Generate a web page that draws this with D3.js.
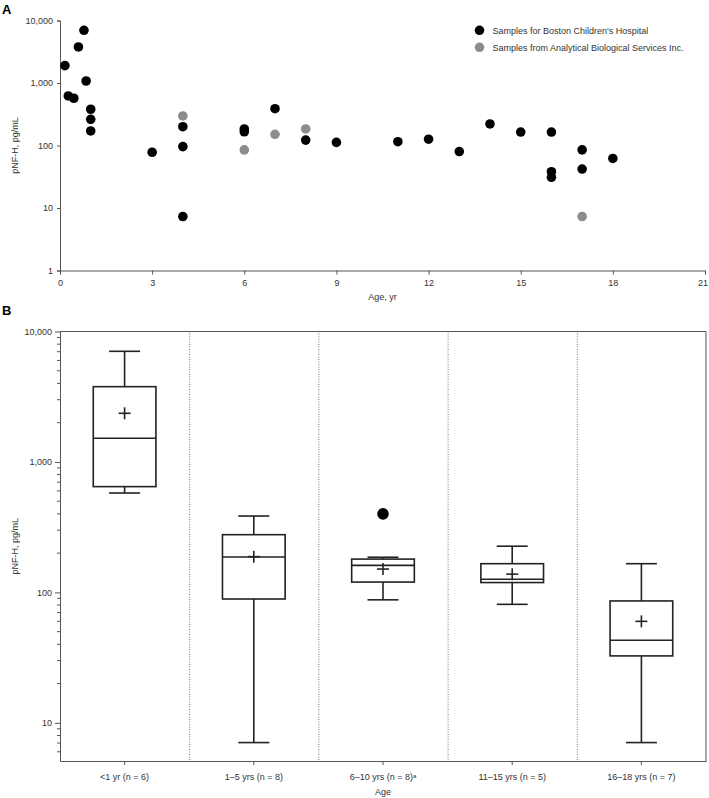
<!DOCTYPE html>
<html>
<head>
<meta charset="utf-8">
<script src="https://cdn.jsdelivr.net/npm/d3@7"></script>
<style>
  html, body { margin: 0; padding: 0; background: #fff; }
  svg { display: block; font-family: "Liberation Sans", Arial, Helvetica, sans-serif; }
</style>
</head>
<body>
<svg id="chart" width="709" height="798"></svg>
<script>
// ---------- Panel A data ----------
const bchAge = [0.16, 0.27, 0.45, 0.6, 0.78, 0.85, 1, 1, 1, 3, 4, 4, 4, 6, 6, 7, 8, 9, 11, 12, 13, 14, 15, 16, 16, 16, 17, 17, 18];
const bchVal = [1900, 620, 570, 3770, 6970, 1076, 380, 262, 171, 78, 200, 96, 7.3, 184, 166, 388, 122, 112, 115, 126, 80, 221, 164, 164, 38, 31, 85, 42, 62];
const absAge = [4, 6, 7, 8, 17];
const absVal = [297, 85, 151, 184, 7.3];
const seriesNames = ["Samples for Boston Children's Hospital", "Samples from Analytical Biological Services Inc."];
const seriesColors = ["#000000", "#8c8c8c"];
const xTicksA = [0, 3, 6, 9, 12, 15, 18, 21];
const yTicksA = [1, 10, 100, 1000, 10000];

// ---------- Panel B data ----------
const groups = ["<1 yr (n = 6)", "1\u20135 yrs (n = 8)", "6\u201310 yrs (n = 8)", "11\u201315 yrs (n = 5)", "16\u201318 yrs (n = 7)"];
const groupSup = ["", "", "a", "", ""];
const boxMin  = [578, 7.06, 87.7, 81, 7.06];
const boxQ1   = [647, 89, 120, 119, 32.6];
const boxMed  = [1520, 187, 161, 126, 43];
const boxQ3   = [3776, 277, 180, 166, 86];
const boxMax  = [7050, 385, 186, 226, 166];
const boxMean = [2360, 188, 151, 138, 60];
const outlierGroup = [2];
const outlierVal = [400];
const yTicksB = [10, 100, 1000, 10000];

const svg = d3.select("#chart");
const fmt = d3.format(",");
const axisColor = "#555";
const textColor = "#333";

function styleAxis(g) {
  g.selectAll("path.domain").attr("stroke", axisColor).attr("stroke-width", 1);
  g.selectAll(".tick line").attr("stroke", axisColor);
  g.selectAll(".tick text").attr("fill", textColor).attr("font-size", 9).attr("font-family", "Liberation Sans, Arial, sans-serif");
}

// ================= Panel A =================
const xA = d3.scaleLinear().domain([0, 21]).range([60, 705]);
const yA = d3.scaleLog().domain([1, 10000]).range([270.5, 20.5]);

const gA = svg.append("g");
const xAxisA = gA.append("g").attr("transform", "translate(0,270.5)")
  .call(d3.axisBottom(xA).tickValues(xTicksA).tickSize(4).tickPadding(5.5).tickFormat(d3.format("d")))
  .call(styleAxis);
xAxisA.selectAll(".tick text").filter(d => d === 21).attr("dx", "-2.5");
gA.append("g").attr("transform", "translate(60,0)")
  .call(d3.axisLeft(yA).tickValues(yTicksA).tickSize(3).tickPadding(4).tickFormat(fmt))
  .call(styleAxis);

gA.append("text").attr("x", 382.5).attr("y", 300).attr("text-anchor", "middle")
  .attr("font-size", 9).attr("fill", textColor).text("Age, yr");
gA.append("text").attr("transform", "translate(18,145.5) rotate(-90)").attr("text-anchor", "middle")
  .attr("font-size", 9).attr("fill", textColor).text("pNF-H, pg/mL");

gA.append("g").selectAll("circle").data(bchAge.map((a, i) => [a, bchVal[i]])).join("circle")
  .attr("cx", d => xA(d[0])).attr("cy", d => yA(d[1])).attr("r", 4.8).attr("fill", seriesColors[0]);
gA.append("g").selectAll("circle").data(absAge.map((a, i) => [a, absVal[i]])).join("circle")
  .attr("cx", d => xA(d[0])).attr("cy", d => yA(d[1])).attr("r", 4.8).attr("fill", seriesColors[1]);

// legend
const leg = gA.append("g");
seriesNames.forEach((name, i) => {
  const y = 30.3 + i * 17;
  leg.append("circle").attr("cx", 479.5).attr("cy", y).attr("r", 4.8).attr("fill", seriesColors[i]);
  leg.append("text").attr("x", 492.5).attr("y", y + 3.2).attr("font-size", 9).attr("fill", textColor).text(name);
});

svg.append("text").attr("x", 2).attr("y", 14).attr("font-size", 13).attr("font-weight", "bold").text("A");
svg.append("text").attr("x", 2).attr("y", 315).attr("font-size", 13).attr("font-weight", "bold").text("B");

// ================= Panel B =================
const topB = 331.5, bottomB = 761, leftB = 60, rightB = 706;
const xB = d3.scaleBand().domain(groups).range([leftB, rightB]).padding(0);
const yB = d3.scaleLog().domain([5.1, 10000]).range([bottomB, topB]);
const bw = xB.bandwidth();

const gB = svg.append("g");
// frame top & right
gB.append("line").attr("x1", leftB).attr("x2", rightB).attr("y1", topB).attr("y2", topB).attr("stroke", axisColor);
gB.append("line").attr("x1", rightB).attr("x2", rightB).attr("y1", topB).attr("y2", bottomB).attr("stroke", axisColor);

// dotted separators
gB.append("g").selectAll("line").data(groups.slice(1)).join("line")
  .attr("x1", d => xB(d) + 0.5).attr("x2", d => xB(d) + 0.5)
  .attr("y1", topB).attr("y2", bottomB)
  .attr("stroke", "#777").attr("stroke-width", 1).attr("stroke-dasharray", "1,1.5");

// minor ticks
const minorTicks = [];
[1, 10, 100, 1000].forEach(dec => { for (let k = 2; k <= 9; k++) { const v = dec * k; if (v >= 5.1 && v < 10000) minorTicks.push(v); } });
gB.append("g").selectAll("line").data(minorTicks).join("line")
  .attr("x1", leftB - 3).attr("x2", leftB).attr("y1", d => yB(d)).attr("y2", d => yB(d))
  .attr("stroke", axisColor);

const xAxisB = gB.append("g").attr("transform", `translate(0,${bottomB})`)
  .call(d3.axisBottom(xB).tickSize(4).tickPadding(9).tickSizeOuter(0))
  .call(styleAxis);
xAxisB.selectAll(".tick text").each(function(d) {
  const sup = groupSup[groups.indexOf(d)];
  if (sup) {
    d3.select(this).append("tspan").attr("font-size", 6).attr("dy", "-0.45em").text(sup);
  }
});
gB.append("g").attr("transform", `translate(${leftB},0)`)
  .call(d3.axisLeft(yB).tickValues(yTicksB).tickSize(5).tickPadding(3).tickFormat(fmt).tickSizeOuter(0))
  .call(styleAxis);

gB.append("text").attr("x", (leftB + rightB) / 2).attr("y", 795).attr("text-anchor", "middle")
  .attr("font-size", 9).attr("fill", textColor).text("Age");
gB.append("text").attr("transform", `translate(18,${(topB + bottomB) / 2}) rotate(-90)`).attr("text-anchor", "middle")
  .attr("font-size", 9).attr("fill", textColor).text("pNF-H, pg/mL");

const boxW = bw * 0.485, capW = bw * 0.24, plus = 6;
const boxColor = "#222", sw = 1.6;
groups.forEach((g, i) => {
  const cx = xB(g) + bw / 2;
  const grp = gB.append("g").attr("stroke", boxColor).attr("stroke-width", sw).attr("fill", "none");
  grp.append("line").attr("x1", cx).attr("x2", cx).attr("y1", yB(boxQ3[i])).attr("y2", yB(boxMax[i]));
  grp.append("line").attr("x1", cx).attr("x2", cx).attr("y1", yB(boxQ1[i])).attr("y2", yB(boxMin[i]));
  grp.append("line").attr("x1", cx - capW / 2).attr("x2", cx + capW / 2).attr("y1", yB(boxMax[i])).attr("y2", yB(boxMax[i]));
  grp.append("line").attr("x1", cx - capW / 2).attr("x2", cx + capW / 2).attr("y1", yB(boxMin[i])).attr("y2", yB(boxMin[i]));
  grp.append("rect").attr("x", cx - boxW / 2).attr("width", boxW)
    .attr("y", yB(boxQ3[i])).attr("height", yB(boxQ1[i]) - yB(boxQ3[i])).attr("fill", "#fff");
  grp.append("line").attr("x1", cx - boxW / 2).attr("x2", cx + boxW / 2).attr("y1", yB(boxMed[i])).attr("y2", yB(boxMed[i]));
  const my = yB(boxMean[i]);
  grp.append("line").attr("x1", cx - plus).attr("x2", cx + plus).attr("y1", my).attr("y2", my);
  grp.append("line").attr("x1", cx).attr("x2", cx).attr("y1", my - plus).attr("y2", my + plus);
});

gB.append("g").selectAll("circle").data(outlierGroup.map((g, i) => [g, outlierVal[i]])).join("circle")
  .attr("cx", d => xB(groups[d[0]]) + bw / 2).attr("cy", d => yB(d[1])).attr("r", 5.8).attr("fill", "#000");
</script>
</body>
</html>
